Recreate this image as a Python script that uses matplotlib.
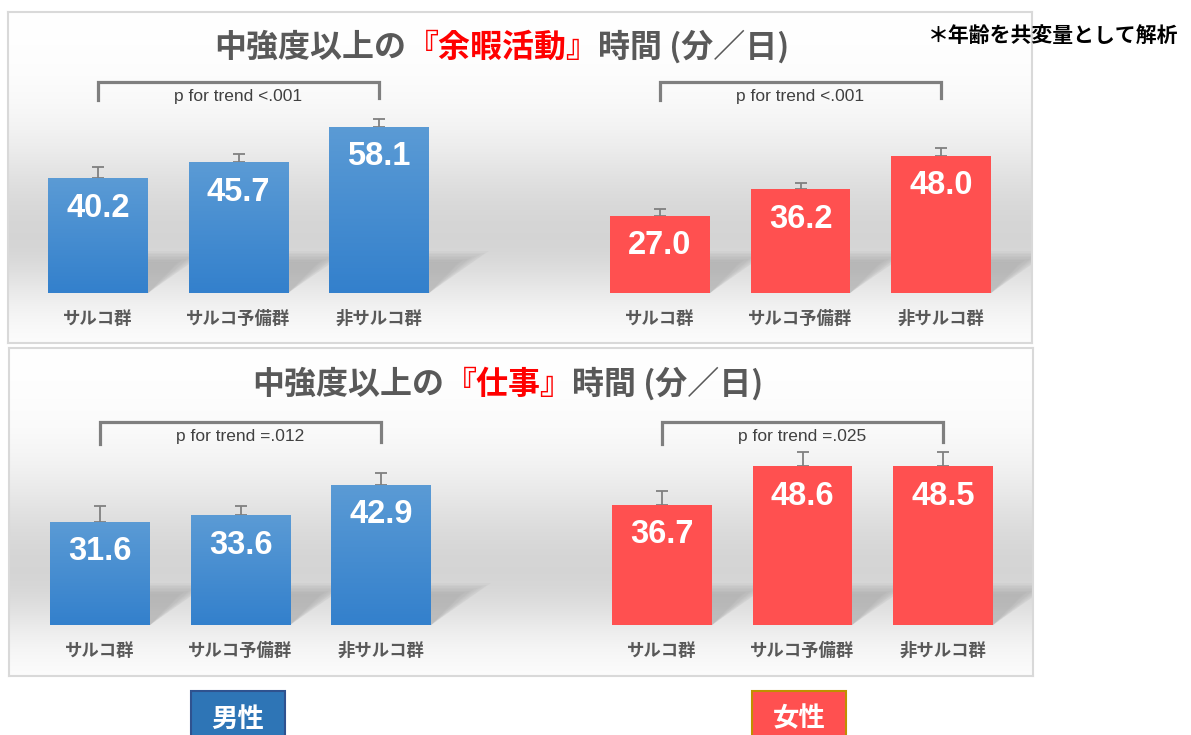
import numpy as np
import matplotlib
matplotlib.use('Agg')
import matplotlib.pyplot as plt
from matplotlib.patches import Rectangle, Polygon
from matplotlib.colors import to_rgb

JP = ['Noto Sans CJK JP', 'DejaVu Sans']
NUM = ['Liberation Sans Narrow', 'Liberation Sans', 'DejaVu Sans']

W, H = 1191, 735

# --- data -------------------------------------------------------------
groups = ['サルコ群', 'サルコ予備群', '非サルコ群']
sexes = ['男性', '女性']
note = '＊年齢を共変量として解析'

leisure_title = [('中強度以上の', '#595959'), ('『余暇活動』', '#ff0000'), ('時間 (分／日)', '#595959')]
leisure_male = [40.2, 45.7, 58.1]
leisure_female = [27.0, 36.2, 48.0]
leisure_male_err = [3.8, 2.8, 2.8]
leisure_female_err = [2.4, 2.1, 2.8]
leisure_p = ['p for trend <.001', 'p for trend <.001']

work_title = [('中強度以上の', '#595959'), ('『仕事』', '#ff0000'), ('時間 (分／日)', '#595959')]
work_male = [31.6, 33.6, 42.9]
work_female = [36.7, 48.6, 48.5]
work_male_err = [4.9, 2.8, 3.7]
work_female_err = [4.3, 4.3, 4.3]
work_p = ['p for trend =.012', 'p for trend =.025']

# --- styling ----------------------------------------------------------
BLUE_TOP, BLUE_BOT = '#5b9bd5', '#3380cc'
RED = '#ff5050'
GRAY_TXT = '#595959'
male_pos = np.array([0, 1, 2])
female_pos = np.array([4, 5, 6])
bar_w = 0.71
unit_px = 140.5


def px_rect(x0, y0, x1, y1):
    return [x0 / W, 1 - y1 / H, (x1 - x0) / W, (y1 - y0) / H]


def vgrad(stops, n=512):
    # stops: list of (frac_from_top, color)
    f = np.linspace(0, 1, n)
    xs = [s[0] for s in stops]
    cols = np.array([to_rgb(s[1]) for s in stops])
    img = np.stack([np.interp(f, xs, cols[:, k]) for k in range(3)], axis=1)
    return img[:, None, :]


def panel_bg(n=512):
    # smooth light-grey band, white at top and bottom
    f = np.linspace(0, 1, n)
    up = np.exp(-((f - 0.68) / 0.30) ** 2)
    down = np.exp(-((f - 0.68) / 0.20) ** 2)
    v = 1.0 - 0.165 * np.where(f < 0.68, up, down)
    return np.repeat(v[:, None, None], 3, axis=2)


fig = plt.figure(figsize=(W / 100, H / 100), dpi=100)

panels = [
    dict(rect=(8, 12, 1032, 343), base=293, center=98, scale=2.86,
         title=leisure_title, tcx=502, tcy=48,
         male=leisure_male, female=leisure_female,
         male_err=leisure_male_err, female_err=leisure_female_err,
         p=leisure_p, br_px=(82, 100), pt_px=97),
    dict(rect=(9, 348, 1033, 676), base=625, center=100, scale=3.27,
         title=work_title, tcx=508, tcy=385,
         male=work_male, female=work_female,
         male_err=work_male_err, female_err=work_female_err,
         p=work_p, br_px=(422, 444), pt_px=437),
]

title_jobs = []
for pn in panels:
    x0, y0, x1, y1 = pn['rect']
    ax = fig.add_axes(px_rect(*pn['rect']))
    sc, base = pn['scale'], pn['base']
    ylim = (-(y1 - base) / sc, (base - y0) / sc)
    xlim = ((x0 - pn['center']) / unit_px, (x1 - pn['center']) / unit_px)

    # panel background
    ax.imshow(panel_bg(), extent=[xlim[0], xlim[1], ylim[0], ylim[1]], aspect='auto',
              interpolation='bilinear', zorder=0)

    for pos, vals, errs, kind in [(male_pos, pn['male'], pn['male_err'], 'm'),
                                  (female_pos, pn['female'], pn['female_err'], 'f')]:
        # soft shadows behind the bars
        hs = 40 / sc
        dx = 55 / unit_px
        for p in pos:
            xr = p + bar_w / 2
            for k in np.linspace(1.1, 0.55, 8):
                top = hs * (0.5 + 0.5 * k)
                ax.add_patch(Polygon([(xr, 0), (xr, top), (xr + dx * k, top)],
                                     closed=True, facecolor='#909090', edgecolor='none',
                                     alpha=0.07, zorder=1))
        ax.errorbar(pos, vals, yerr=[np.zeros(len(vals)), errs], fmt='none',
                    ecolor='#808080', elinewidth=1.3, capsize=4, capthick=1.3, zorder=2)
        bars = ax.bar(pos, vals, width=bar_w, color=(RED if kind == 'f' else BLUE_BOT),
                      edgecolor='none', zorder=3)
        if kind == 'm':
            grad = vgrad([(0, BLUE_TOP), (1, BLUE_BOT)])
            for b in bars:
                im = ax.imshow(grad, extent=[b.get_x(), b.get_x() + b.get_width(), 0, b.get_height()],
                               aspect='auto', interpolation='bilinear', zorder=3.5)
                im.set_clip_path(b)
        for p, v in zip(pos, vals):
            ax.annotate(f'{v:.1f}', (p, v), xytext=(0, -30), textcoords='offset pixels',
                        ha='center', va='center', color='white', fontsize=23.5,
                        fontweight='bold', family=NUM, zorder=5)
        for p, g in zip(pos, groups):
            ax.annotate(g, (p, 0), xytext=(0, -26), textcoords='offset pixels',
                        ha='center', va='center', color=GRAY_TXT, fontsize=12.5,
                        fontweight='bold', family=JP, zorder=5)

    # p for trend brackets
    yh = (base - pn['br_px'][0]) / sc
    yl = (base - pn['br_px'][1]) / sc
    yt = (base - pn['pt_px']) / sc
    for pos, ptxt in zip([male_pos, female_pos], pn['p']):
        ax.plot([pos[0], pos[0], pos[-1], pos[-1]], [yl, yh, yh, yl + 0.6],
                color='#7f7f7f', lw=2.3, solid_joinstyle='miter', zorder=4)
        ax.text((pos[0] + pos[-1]) / 2, yt, ptxt, ha='center', va='center',
                fontsize=12.5, color='#404040', family=NUM, zorder=5)

    ax.set_xlim(*xlim)
    ax.set_ylim(*ylim)
    ax.set_xticks([])
    ax.set_yticks([])
    for s in ax.spines.values():
        s.set_color('#d9d9d9')
        s.set_linewidth(1.5)

    # multi-colour title, chained pieces
    first = fig.text(0, 1 - pn['tcy'] / H, pn['title'][0][0], color=pn['title'][0][1],
                     fontsize=23, fontweight='bold', family=JP, ha='left', va='center')
    pieces = [first]
    prev = first
    for s, c in pn['title'][1:]:
        prev = ax.annotate(s, xy=(1, 0), xycoords=prev, ha='left', va='bottom',
                           color=c, fontsize=23, fontweight='bold', family=JP)
        pieces.append(prev)
    title_jobs.append((pieces, pn['tcx']))

# centre the titles
fig.canvas.draw()
r = fig.canvas.get_renderer()
for pieces, cx in title_jobs:
    left = pieces[0].get_window_extent(r).x0
    right = pieces[-1].get_window_extent(r).x1
    start = cx - (right - left) / 2
    pieces[0].set_x(start / W)

fig.text(1178 / W, 1 - 35 / H, note, ha='right', va='center', fontsize=15,
         fontweight='bold', color='black', family=JP)

# sex legend boxes
for label, fc, ec, x0 in zip(sexes, ['#2e75b6', RED], ['#2f528f', '#bf9000'], [191, 752]):
    fig.add_artist(Rectangle((x0 / W, -12 / H), 94 / W, 56 / H, transform=fig.transFigure,
                             facecolor=fc, edgecolor=ec, linewidth=1.5))
    fig.text((x0 + 47) / W, 1 - 719 / H, label, ha='center', va='center', fontsize=19,
             fontweight='bold', color='white', family=JP)

fig.savefig('out.png', dpi=100)
